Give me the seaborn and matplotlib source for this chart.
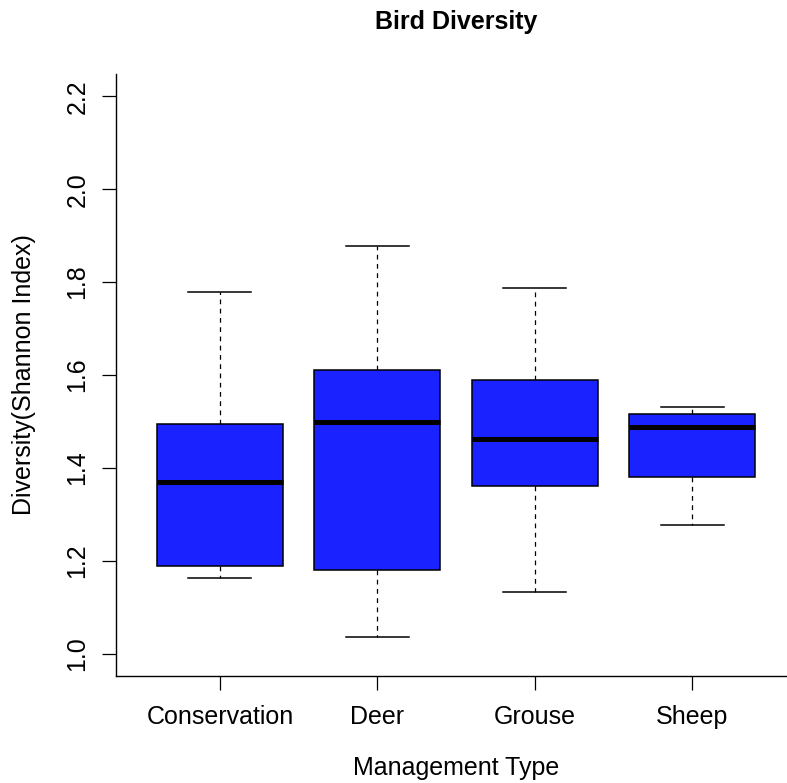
import numpy as np
import pandas as pd
import seaborn as sns
import matplotlib
matplotlib.use("Agg")
import matplotlib.pyplot as plt

# ---- data (five-number summaries) ----
categories = ["Conservation", "Deer", "Grouse", "Sheep"]
whisker_low = [1.164, 1.035, 1.133, 1.277]
quartile_1 = [1.189, 1.181, 1.362, 1.380]
medians = [1.369, 1.499, 1.463, 1.489]
quartile_3 = [1.494, 1.610, 1.589, 1.516]
whisker_high = [1.779, 1.878, 1.788, 1.532]
y_ticks = [1.0, 1.2, 1.4, 1.6, 1.8, 2.0, 2.2]
y_tick_labels = ["1.0", "1.2", "1.4", "1.6", "1.8", "2.0", "2.2"]

rows = []
for cat, lo, a, m, b, hi in zip(categories, whisker_low, quartile_1, medians, quartile_3, whisker_high):
    for v in (lo, a, m, b, hi):
        rows.append({"Management Type": cat, "Diversity": v})
df = pd.DataFrame(rows)

plt.rcParams["font.family"] = ["Liberation Sans", "DejaVu Sans"]

W, H = 787, 783
fig = plt.figure(figsize=(W / 100, H / 100), dpi=100)
ax_left, ax_right, ax_top, ax_bottom = 116, 796, 74, 676
ax = fig.add_axes([ax_left / W, (H - ax_bottom) / H, (ax_right - ax_left) / W, (ax_bottom - ax_top) / H])

sns.boxplot(
    data=df, x="Management Type", y="Diversity", order=categories,
    color="#1a23ff", saturation=1, width=0.8, whis=np.inf,
    linecolor="black", linewidth=1.1, ax=ax,
    medianprops=dict(color="black", linewidth=3.6, solid_capstyle="butt"),
    whiskerprops=dict(color="black", linewidth=0.9, linestyle=(0, (3.8, 3.6))),
    capprops=dict(color="black", linewidth=1.1),
    boxprops=dict(edgecolor="black", linewidth=1.1),
)

ax.set_xlim(-0.66, 3.66)
ax.set_ylim(0.952, 2.248)
ax.set_yticks(y_ticks)
ax.set_yticklabels(y_tick_labels, rotation=90, va="center")

for s in ("top", "right"):
    ax.spines[s].set_visible(False)
for s in ("left", "bottom"):
    ax.spines[s].set_color("black")
    ax.spines[s].set_linewidth(1.0)

ax.tick_params(axis="both", direction="out", length=10, width=0.9, color="black",
               labelsize=18, labelcolor="black")
ax.tick_params(axis="y", pad=9)
ax.tick_params(axis="x", pad=11)

ax.set_xlabel("Management Type", fontsize=18, color="black")
ax.set_ylabel("Diversity(Shannon Index)", fontsize=18, color="black")
ax.xaxis.set_label_coords(0.5, (ax_bottom - 756) / (ax_bottom - ax_top))
ax.yaxis.set_label_coords((36 - ax_left) / (ax_right - ax_left), 0.5)
ax.set_title("Bird Diversity", fontsize=18, fontweight="bold", pad=32.5)

fig.savefig("out.png", dpi=100)
